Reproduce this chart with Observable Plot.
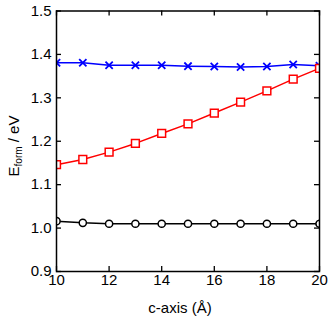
<!DOCTYPE html>
<html>
<head>
<meta charset="utf-8">
<script src="https://cdn.jsdelivr.net/npm/d3@7"></script>
<script src="https://cdn.jsdelivr.net/npm/@observablehq/plot@0.6"></script>
<style>
  html, body { margin: 0; padding: 0; background: #fff; }
  #chart svg { display: block; }
</style>
</head>
<body>
<div id="chart"></div>
<script>
const cAxis = [10, 11, 12, 13, 14, 15, 16, 17, 18, 19, 20];
const seriesCross = [1.381, 1.381, 1.375, 1.375, 1.375, 1.373, 1.372, 1.371, 1.372, 1.377, 1.374];
const seriesSquare = [1.146, 1.158, 1.175, 1.195, 1.218, 1.240, 1.265, 1.290, 1.316, 1.343, 1.368];
const seriesCircle = [1.016, 1.012, 1.010, 1.010, 1.010, 1.010, 1.010, 1.010, 1.010, 1.010, 1.010];
const xTicks = [10, 12, 14, 16, 18, 20];
const yTicks = [0.9, 1.0, 1.1, 1.2, 1.3, 1.4, 1.5];
const xLabel = "c-axis (Å)";

const toRows = (vals) => cAxis.map((x, i) => ({x, y: vals[i]}));
const cross = toRows(seriesCross);
const square = toRows(seriesSquare);
const circle = toRows(seriesCircle);

const font = "Liberation Sans, Arial, Helvetica, sans-serif";
const W = 332, H = 324, mL = 56, mR = 13, mT = 10.5, mB = 53;
const innerW = W - mL - mR, innerH = H - mT - mB, tickLen = 5;

const chart = Plot.plot({
  width: W,
  height: H,
  marginLeft: mL,
  marginRight: mR,
  marginTop: mT,
  marginBottom: mB,
  style: {fontFamily: font, fontSize: "15px", color: "black", background: "white"},
  x: {domain: [10, 20], ticks: xTicks},
  y: {domain: [0.9, 1.5], ticks: yTicks},
  marks: [
    Plot.axisX(xTicks, {anchor: "bottom", tickSize: 0, tickPadding: 3, label: null, fontSize: 15}),
    Plot.axisY(yTicks, {anchor: "left", tickSize: 0, tickPadding: 5, label: null, tickFormat: d3.format(".1f"), fontSize: 15}),
    Plot.tickX(xTicks, {x: d => d, insetTop: innerH - tickLen, stroke: "black", strokeWidth: 1.3}),
    Plot.tickX(xTicks, {x: d => d, insetBottom: innerH - tickLen, stroke: "black", strokeWidth: 1.3}),
    Plot.tickY(yTicks, {y: d => d, insetRight: innerW - tickLen, stroke: "black", strokeWidth: 1.3}),
    Plot.tickY(yTicks, {y: d => d, insetLeft: innerW - tickLen, stroke: "black", strokeWidth: 1.3}),
    Plot.line(cross, {x: "x", y: "y", stroke: "#0000ff", strokeWidth: 1.5, clip: true}),
    Plot.dot(cross, {x: "x", y: "y", stroke: "#0000ff", strokeWidth: 1.8, symbol: "times", r: 3.4, clip: true}),
    Plot.line(square, {x: "x", y: "y", stroke: "#ff0000", strokeWidth: 1.5, clip: true}),
    Plot.dot(square, {x: "x", y: "y", stroke: "#ff0000", fill: "white", strokeWidth: 1.5, symbol: "square", r: 4.4, clip: true}),
    Plot.line(circle, {x: "x", y: "y", stroke: "black", strokeWidth: 1.5, clip: true}),
    Plot.dot(circle, {x: "x", y: "y", stroke: "black", fill: "white", strokeWidth: 1.5, symbol: "circle", r: 3.6, clip: true}),
    Plot.frame({stroke: "black", strokeWidth: 1.5}),
    Plot.text([xLabel], {text: d => d, frameAnchor: "bottom", dy: 37, dx: -8, fontSize: 15, lineAnchor: "middle"})
  ]
});

// y-axis title with subscript
const svg = d3.select(chart);
const t = svg.append("text")
  .attr("transform", "translate(19,146) rotate(-90)")
  .attr("text-anchor", "middle")
  .attr("font-family", font)
  .attr("font-size", 15)
  .attr("fill", "black");
t.append("tspan").text("E");
t.append("tspan").attr("font-size", 10).attr("dy", 3).text("form");
t.append("tspan").attr("dy", -3).text(" / eV");

document.getElementById("chart").appendChild(chart);
</script>
</body>
</html>
